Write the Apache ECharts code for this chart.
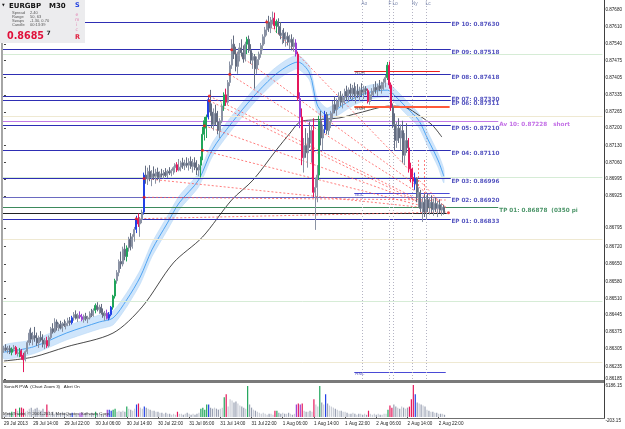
<!DOCTYPE html>
<html><head><meta charset="utf-8">
<script src="https://cdn.jsdelivr.net/npm/echarts@6/dist/echarts.min.js"></script>
<style>html,body{margin:0;padding:0;background:#fff;overflow:hidden}#c{width:625px;height:429px}</style>
</head><body><div id="c"></div>
<script>
// ---- bars: [open, high, low, close], M30 EURGBP from 29 Jul 2013 06:30 ----
const bars = [
[0.86300,0.86318,0.86290,0.86310],[0.86310,0.86325,0.86296,0.86302],[0.86302,0.86318,0.86288,0.86308],[0.86308,0.86320,0.86285,0.86292],
[0.86292,0.86312,0.86280,0.86305],[0.86305,0.86322,0.86295,0.86312],[0.86312,0.86318,0.86282,0.86287],[0.86287,0.86305,0.86275,0.86290],
[0.86285,0.86310,0.86272,0.86298],[0.86298,0.86305,0.86262,0.86275],[0.86280,0.86290,0.86212,0.86262],[0.86262,0.86300,0.86255,0.86295],
[0.86295,0.86340,0.86285,0.86332],[0.86332,0.86385,0.86320,0.86370],[0.86370,0.86392,0.86330,0.86345],[0.86345,0.86375,0.86320,0.86360],
[0.86360,0.86395,0.86335,0.86350],[0.86350,0.86372,0.86318,0.86330],[0.86330,0.86360,0.86310,0.86352],[0.86352,0.86378,0.86335,0.86342],
[0.86342,0.86365,0.86312,0.86325],[0.86325,0.86350,0.86305,0.86340],[0.86340,0.86355,0.86310,0.86318],[0.86318,0.86360,0.86312,0.86352],
[0.86352,0.86395,0.86345,0.86388],[0.86388,0.86410,0.86368,0.86375],[0.86375,0.86430,0.86370,0.86415],[0.86415,0.86425,0.86380,0.86392],
[0.86392,0.86412,0.86378,0.86405],[0.86405,0.86420,0.86385,0.86390],[0.86390,0.86415,0.86375,0.86408],[0.86408,0.86425,0.86395,0.86400],
[0.86400,0.86418,0.86385,0.86410],[0.86410,0.86432,0.86398,0.86420],[0.86420,0.86435,0.86400,0.86412],[0.86412,0.86440,0.86405,0.86432],
[0.86432,0.86455,0.86420,0.86445],[0.86445,0.86462,0.86425,0.86430],[0.86430,0.86450,0.86415,0.86442],[0.86442,0.86458,0.86428,0.86436],
[0.86436,0.86448,0.86418,0.86425],[0.86425,0.86445,0.86412,0.86438],[0.86438,0.86452,0.86420,0.86428],[0.86428,0.86440,0.86410,0.86432],
[0.86432,0.86458,0.86425,0.86450],[0.86450,0.86468,0.86435,0.86442],[0.86442,0.86470,0.86436,0.86462],[0.86462,0.86490,0.86450,0.86482],
[0.86482,0.86495,0.86458,0.86465],[0.86465,0.86485,0.86448,0.86475],[0.86475,0.86488,0.86445,0.86452],[0.86452,0.86470,0.86432,0.86440],
[0.86440,0.86460,0.86420,0.86450],[0.86450,0.86465,0.86425,0.86430],[0.86430,0.86455,0.86422,0.86445],[0.86445,0.86480,0.86438,0.86475],
[0.86475,0.86525,0.86465,0.86520],[0.86520,0.86590,0.86510,0.86582],[0.86582,0.86625,0.86570,0.86615],[0.86615,0.86668,0.86600,0.86660],
[0.86660,0.86700,0.86630,0.86650],[0.86650,0.86720,0.86640,0.86710],[0.86710,0.86735,0.86665,0.86680],[0.86680,0.86725,0.86660,0.86715],
[0.86715,0.86760,0.86700,0.86750],[0.86750,0.86775,0.86705,0.86720],[0.86720,0.86770,0.86712,0.86760],[0.86760,0.86800,0.86740,0.86790],
[0.86790,0.86845,0.86775,0.86832],[0.86832,0.86855,0.86800,0.86812],[0.86812,0.86840,0.86760,0.86830],[0.86830,0.86870,0.86815,0.86860],
[0.86860,0.87020,0.86850,0.87010],[0.87010,0.87048,0.86975,0.86995],[0.86995,0.87040,0.86970,0.87025],[0.87025,0.87050,0.86985,0.87000],
[0.87000,0.87030,0.86965,0.87015],[0.87015,0.87045,0.86990,0.87005],[0.87005,0.87035,0.86975,0.87022],[0.87022,0.87040,0.86990,0.87000],
[0.87000,0.87025,0.86980,0.87015],[0.87015,0.87035,0.87000,0.87010],[0.87010,0.87030,0.86995,0.87020],[0.87020,0.87038,0.87002,0.87008],
[0.87008,0.87032,0.86998,0.87025],[0.87025,0.87042,0.87010,0.87018],[0.87018,0.87035,0.87005,0.87028],[0.87028,0.87045,0.87012,0.87040],
[0.87040,0.87058,0.87020,0.87052],[0.87052,0.87062,0.87022,0.87030],[0.87030,0.87075,0.87025,0.87042],[0.87042,0.87068,0.87025,0.87060],
[0.87060,0.87080,0.87035,0.87048],[0.87048,0.87072,0.87030,0.87058],[0.87058,0.87082,0.87040,0.87050],[0.87050,0.87078,0.87028,0.87065],
[0.87065,0.87085,0.87035,0.87045],[0.87045,0.87075,0.87020,0.87060],[0.87060,0.87082,0.87030,0.87040],[0.87040,0.87070,0.87010,0.87030],
[0.87030,0.87055,0.87005,0.87050],[0.87050,0.87085,0.87000,0.87075],[0.87075,0.87205,0.87070,0.87175],[0.87175,0.87245,0.87150,0.87230],
[0.87200,0.87255,0.87160,0.87245],[0.87245,0.87325,0.87235,0.87315],[0.87315,0.87355,0.87250,0.87265],[0.87265,0.87300,0.87200,0.87215],
[0.87215,0.87280,0.87190,0.87260],[0.87260,0.87295,0.87210,0.87225],[0.87225,0.87270,0.87175,0.87190],[0.87190,0.87240,0.87160,0.87230],
[0.87230,0.87300,0.87220,0.87290],[0.87290,0.87345,0.87270,0.87335],[0.87335,0.87360,0.87290,0.87305],[0.87305,0.87395,0.87295,0.87385],
[0.87385,0.87470,0.87370,0.87455],[0.87455,0.87560,0.87440,0.87540],[0.87540,0.87575,0.87480,0.87500],[0.87500,0.87530,0.87430,0.87450],
[0.87450,0.87510,0.87420,0.87495],[0.87495,0.87545,0.87470,0.87525],[0.87525,0.87560,0.87490,0.87505],[0.87505,0.87535,0.87465,0.87480],
[0.87480,0.87550,0.87470,0.87540],[0.87540,0.87570,0.87500,0.87560],[0.87560,0.87575,0.87505,0.87515],[0.87515,0.87540,0.87460,0.87475],
[0.87475,0.87505,0.87440,0.87490],[0.87490,0.87500,0.87360,0.87440],[0.87440,0.87490,0.87420,0.87478],[0.87478,0.87510,0.87455,0.87500],
[0.87500,0.87545,0.87485,0.87535],[0.87535,0.87580,0.87515,0.87570],[0.87570,0.87610,0.87540,0.87598],[0.87598,0.87640,0.87575,0.87630],
[0.87630,0.87655,0.87590,0.87605],[0.87605,0.87650,0.87585,0.87638],[0.87638,0.87672,0.87620,0.87645],[0.87645,0.87668,0.87600,0.87615],
[0.87615,0.87640,0.87585,0.87632],[0.87632,0.87645,0.87580,0.87612],[0.87612,0.87630,0.87560,0.87575],[0.87575,0.87598,0.87540,0.87585],
[0.87585,0.87605,0.87545,0.87560],[0.87560,0.87590,0.87530,0.87572],[0.87572,0.87588,0.87535,0.87548],[0.87548,0.87578,0.87520,0.87560],
[0.87560,0.87580,0.87515,0.87530],[0.87530,0.87568,0.87510,0.87545],[0.87545,0.87560,0.87490,0.87500],[0.87500,0.87510,0.87310,0.87320],
[0.87320,0.87345,0.87200,0.87245],[0.87245,0.87280,0.87050,0.87080],[0.87080,0.87160,0.87020,0.87130],[0.87130,0.87200,0.87080,0.87100],
[0.87100,0.87180,0.87040,0.87160],[0.87160,0.87225,0.87120,0.87140],[0.87140,0.87210,0.87060,0.87190],[0.87190,0.87240,0.86920,0.86940],
[0.86940,0.87000,0.86788,0.86960],[0.86960,0.87050,0.86900,0.87010],[0.87010,0.87250,0.86990,0.87230],[0.87230,0.87270,0.87130,0.87160],
[0.87160,0.87215,0.87110,0.87195],[0.87195,0.87270,0.87180,0.87255],[0.87255,0.87265,0.87175,0.87190],[0.87190,0.87238,0.87172,0.87225],
[0.87225,0.87270,0.87200,0.87260],[0.87260,0.87310,0.87240,0.87295],[0.87295,0.87330,0.87260,0.87275],[0.87275,0.87320,0.87250,0.87310],
[0.87310,0.87345,0.87285,0.87330],[0.87330,0.87350,0.87290,0.87305],[0.87305,0.87340,0.87280,0.87325],[0.87325,0.87360,0.87300,0.87348],
[0.87348,0.87372,0.87310,0.87330],[0.87330,0.87365,0.87305,0.87355],[0.87355,0.87380,0.87318,0.87340],[0.87340,0.87375,0.87312,0.87362],
[0.87362,0.87385,0.87325,0.87338],[0.87338,0.87370,0.87300,0.87350],[0.87350,0.87378,0.87322,0.87335],[0.87335,0.87368,0.87310,0.87355],
[0.87355,0.87382,0.87330,0.87345],[0.87345,0.87372,0.87318,0.87360],[0.87360,0.87370,0.87335,0.87352],[0.87352,0.87360,0.87300,0.87308],
[0.87308,0.87345,0.87295,0.87335],[0.87335,0.87362,0.87315,0.87350],[0.87350,0.87378,0.87330,0.87365],[0.87365,0.87390,0.87340,0.87355],
[0.87355,0.87380,0.87330,0.87372],[0.87372,0.87395,0.87350,0.87360],[0.87360,0.87388,0.87340,0.87378],[0.87378,0.87400,0.87355,0.87385],
[0.87385,0.87415,0.87365,0.87405],[0.87405,0.87468,0.87395,0.87455],[0.87455,0.87470,0.87360,0.87375],[0.87375,0.87385,0.87270,0.87285],
[0.87285,0.87300,0.87200,0.87215],[0.87215,0.87260,0.87110,0.87150],[0.87150,0.87225,0.87120,0.87200],[0.87200,0.87240,0.87140,0.87160],
[0.87160,0.87215,0.87110,0.87190],[0.87190,0.87230,0.87060,0.87090],[0.87090,0.87180,0.87050,0.87150],[0.87150,0.87220,0.87100,0.87120],
[0.87120,0.87160,0.87020,0.87035],[0.87035,0.87060,0.86980,0.87000],[0.87000,0.87040,0.86960,0.86985],[0.86975,0.87020,0.86950,0.86998],
[0.86998,0.87000,0.86900,0.86920],[0.86920,0.86960,0.86880,0.86940],[0.86940,0.86950,0.86860,0.86875],[0.86875,0.86920,0.86820,0.86900],
[0.86900,0.86935,0.86840,0.86860],[0.86860,0.86925,0.86830,0.86910],[0.86910,0.86935,0.86860,0.86880],[0.86880,0.86920,0.86850,0.86900],
[0.86900,0.86928,0.86855,0.86870],[0.86870,0.86915,0.86845,0.86895],[0.86895,0.86920,0.86860,0.86875],[0.86875,0.86905,0.86840,0.86890],
[0.86890,0.86912,0.86855,0.86868],[0.86868,0.86895,0.86845,0.86880],[0.86880,0.86890,0.86850,0.86857]
];
// ---- SonicR PVA volume per bar ----
const vols = [
560,380,750,760,940,750,1500,1130,1690,1700,1500,940,
1130,1500,1690,1320,1500,1690,1320,1130,1500,
940,2260,1130,
750,940,560,750,560,750,940,750,560,750,560,
750,560,380,560,750,750,560,750,380,560,750,560,
940,560,750,560,380,560,
1320,1320,1130,1320,1500,
940,1130,940,1130,940,1880,1500,1320,1130,1500,
2260,2440,1690,1500,1880,
1690,1500,1320,1130,1130,940,940,750,750,560,750,560,560,380,560,380,
940,
560,560,380,560,750,560,380,560,380,560,750,
1500,1690,1320,2260,2260,
1690,1500,1690,1500,1320,1500,1690,
3570,4140,1880,
3200,3010,2630,2820,2440,2070,1880,
1690,1500,5640,2260,1690,1320,1130,940,
750,560,750,560,380,560,560,380,
1130,1130,
750,560,750,560,560,750,560,380,560,
2260,2440,2260,2440,
1130,940,940,1130,940,
3200,2260,1880,5640,2630,2260,4140,2440,2070,1880,
1690,1500,1320,1130,1130,940,940,
750,560,560,750,560,380,560,560,380,560,380,
1130,
560,380,560,380,560,380,380,560,560,
1320,2070,1690,
2260,1880,1690,1500,1880,1690,1500,1690,
1880,
3200,5830,4140,
2630,2440,2260,2070,1880,
1320,1130,940,940,750,750,560,560,560,380
];
// PVA classes (bar indices)
const greenIdx = [4,8,47,56,57,63,101,102,103,104,113,125,140,162,197];
const redIdx = [6,9,10,22,69,89,114,139,151,153,159,187,198,199,208,209,210];
const blueIdx = [35,54,55,68,72,105,165,211];
const purpleIdx = [39,40,53,150,152];

const tickIdx = [0,15,31,47,63,79,95,111,127,143,159,175,191,207,223];
const tickLabels = ['29 Jul 2013','29 Jul 14:00','29 Jul 22:00','30 Jul 06:00','30 Jul 14:00','30 Jul 22:00','31 Jul 06:00','31 Jul 14:00','31 Jul 22:00','1 Aug 06:00','1 Aug 14:00','1 Aug 22:00','2 Aug 06:00','2 Aug 14:00','2 Aug 22:00'];
const priceTicks = [0.87680,0.87610,0.87540,0.87475,0.87405,0.87335,0.87265,0.87200,0.87130,0.87060,0.86995,0.86925,0.86795,0.86720,0.86650,0.86580,0.86510,0.86445,0.86375,0.86305,0.86235,0.86185];
const volTicks = [6186.15,-203.15];

const epNames = ['EP 10','EP 09','EP 08','EP 07','EP 06','EP 05','EP 04','EP 03','EP 02','EP 01'];
const epPrices = [0.87630,0.87518,0.87418,0.87330,0.87311,0.87210,0.87110,0.86996,0.86920,0.86833];
const epStartIdx = [135,117,116,105.5,105.5,103,102,72,72,68];
const fanEndIdx = [227,227,223.5,218.5,217.5,216,213,227,227,227];
const fanEndPrice = [0.86877,0.86881,0.86885,0.86889,0.86885,0.86893,0.86889,0.86869,0.86909,0.86860];
const avPrice = 0.87228, tpPrice = 0.86878, lastPrice = 0.86857;
const roundLevels = [0.8750,0.8725,0.8700,0.8675,0.8650,0.8625];
const dayNames = ['RDH','RMH','BDL','RML'];
const dayPrices = [0.87431,0.87287,0.86937,0.86212];
const sessNames = ['Ao','F','Lo','Ny','Lc'];
const sessIdx = [184,198,200,210,217];

const bandIdx = [0,15,32,49,56,63,70,76,84,90,100,107,117,128,138,145,151,157,161,166,172,180,188,197,201,207,213,218,223,226];
const bandMid = [0.86293,0.86314,0.86370,0.86415,0.86431,0.86504,0.86597,0.86707,0.86816,0.86897,0.86990,0.87112,0.87221,0.87326,0.87407,0.87448,0.87468,0.87423,0.87294,0.87253,0.87282,0.87322,0.87346,0.87354,0.87330,0.87282,0.87233,0.87152,0.87071,0.87006];
const bandUp = [0.86321,0.86342,0.86398,0.86443,0.86459,0.86532,0.86625,0.86735,0.86844,0.86925,0.87018,0.87140,0.87249,0.87354,0.87435,0.87476,0.87496,0.87451,0.87322,0.87281,0.87310,0.87350,0.87374,0.87382,0.87358,0.87310,0.87261,0.87180,0.87099,0.87034];
const bandLo = [0.86265,0.86286,0.86342,0.86387,0.86403,0.86476,0.86569,0.86679,0.86788,0.86869,0.86962,0.87084,0.87193,0.87298,0.87379,0.87420,0.87440,0.87395,0.87266,0.87225,0.87254,0.87294,0.87318,0.87326,0.87302,0.87254,0.87205,0.87124,0.87043,0.86978];
const blackIdx = [0,15,32,56,71,87,102,117,128,140,147,152,158,172,182,199,207,213,220,225];
const blackVal = [0.86257,0.86273,0.86314,0.86370,0.86476,0.86654,0.86759,0.86909,0.86990,0.87112,0.87180,0.87225,0.87233,0.87241,0.87261,0.87290,0.87282,0.87253,0.87213,0.87164];

// ---- chart ----
const SLOTS = 308;
const PMIN = 0.86180, PMAX = 0.87719;
const cats = Array.from({length: SLOTS}, (_, i) => String(i));
const tickSet = new Set(tickIdx);
const FONT = '"Liberation Sans Narrow","Liberation Sans",Arial,sans-serif';
const COL = {green:'#1fa55a', red:'#e5175b', blue:'#2241e6', purple:'#9b3fd6'};
function cls(i){
  if (greenIdx.includes(i)) return COL.green;
  if (redIdx.includes(i)) return COL.red;
  if (blueIdx.includes(i)) return COL.blue;
  if (purpleIdx.includes(i)) return COL.purple;
  return null;
}
const candleData = bars.map((b, i) => {
  const c = cls(i);
  const it = {value: [b[0], b[3], b[2], b[1]]};
  if (c) it.itemStyle = {color: c, color0: c, borderColor: c, borderColor0: c};
  return it;
});
const volData = vols.map((v, i) => {
  const c = cls(i) || (bars[i][3] >= bars[i][0] ? '#c9cdd6' : '#99a0b2');
  return {value: v, itemStyle: {color: c}};
});
function seg(x1, y1, x2, y2, style){ return [{coord: [x1, y1], lineStyle: style}, {coord: [x2, y2]}]; }

const bgLines = roundLevels.map((p, k) => seg(-0.5, p, SLOTS - 0.5, p, {color: (k % 2 === 0) ? '#d6ecd6' : '#efe9d2', width: 1, type: 'solid'}));
const lvlLines = [];
epPrices.forEach((p, k) => lvlLines.push(seg(-0.5, p, 229.6, p, {color: k === 8 ? '#6a6ac0' : '#2e2eb4', width: 1, type: 'solid'})));
lvlLines.push(seg(-0.5, avPrice, 254, avPrice, {color: '#c27ae6', width: 1, type: 'solid'}));
lvlLines.push(seg(-0.5, tpPrice, 254, tpPrice, {color: '#3d8a5c', width: 1, type: 'solid'}));
lvlLines.push(seg(-0.5, lastPrice, 227.5, lastPrice, {color: '#222222', width: 1, type: 'solid'}));
lvlLines.push(seg(180, dayPrices[0], 224, dayPrices[0], {color: '#ee2020', width: 1, type: 'solid'}));
lvlLines.push(seg(180, dayPrices[1], 229, dayPrices[1], {color: '#ff5a3a', width: 2, type: 'solid'}));
lvlLines.push(seg(180, dayPrices[2], 229, dayPrices[2], {color: '#4a4ad6', width: 1, type: 'solid'}));
lvlLines.push(seg(180, dayPrices[3], 227, dayPrices[3], {color: '#4a4ad6', width: 1, type: 'solid'}));
sessIdx.forEach(x => lvlLines.push(seg(x, PMAX, x, PMIN, {color: '#b4b4c4', width: 1, type: [1, 2]})));
const fanLines = [];
epPrices.forEach((p, k) => fanLines.push(seg(epStartIdx[k], p, fanEndIdx[k], fanEndPrice[k], {color: '#ff5c5c', width: 0.8, type: [2, 2]})));
fanLines.push(seg(213, 0.87071, 213, 0.86877, {color: '#ff5c5c', width: 0.8, type: [2, 2]}));
fanLines.push(seg(216, 0.87071, 216, 0.86877, {color: '#ff5c5c', width: 0.8, type: [2, 2]}));

const dots = epPrices.map((p, k) => [epStartIdx[k], p]).concat([[228.4, lastPrice]]);

const labelItems = [];
epPrices.forEach((p, k) => labelItems.push({value: [229.9, p], label: {formatter: epNames[k] + ': ' + p.toFixed(5), color: '#2a2ab0', fontWeight: 'bold', fontSize: 5.7, fontFamily: '"DejaVu Sans",sans-serif'}}));
labelItems.push({value: [254.5, avPrice], label: {formatter: 'Av 10: ' + avPrice.toFixed(5) + '   short', color: '#b44be0', fontWeight: 'bold', fontSize: 5.7, fontFamily: '"DejaVu Sans",sans-serif'}});
labelItems.push({value: [254.5, tpPrice], label: {formatter: 'TP 01: ' + tpPrice.toFixed(5) + '  (0350 pi', color: '#1f7a43', fontWeight: 'bold', fontSize: 5.7, fontFamily: '"DejaVu Sans",sans-serif'}});
dayNames.forEach((n, k) => labelItems.push({value: [180.5, dayPrices[k]], label: {formatter: n, color: k >= 2 ? '#3a3ab8' : '#333344', fontSize: 4.4, fontFamily: FONT}}));
sessNames.forEach((n, k) => labelItems.push({value: [sessIdx[k] - 0.4, 0.87713], label: {formatter: n, color: '#5a6a9a', fontSize: 4.8, fontFamily: FONT}}));

const chart = echarts.init(document.getElementById('c'), null, {renderer: 'canvas'});
chart.setOption({
  animation: false,
  backgroundColor: '#ffffff',
  grid: [
    {left: 3, right: 21, top: 0, height: 380},
    {left: 3, right: 21, top: 383, height: 35}
  ],
  xAxis: [
    {type: 'category', gridIndex: 0, data: cats, boundaryGap: true, show: false},
    {type: 'value', gridIndex: 0, min: -0.5, max: SLOTS - 0.5, show: false},
    {type: 'category', gridIndex: 1, data: cats, boundaryGap: true,
      axisLine: {show: false},
      axisTick: {show: true, interval: (i) => tickSet.has(i), alignWithLabel: true, length: 2, lineStyle: {color: '#505050'}},
      axisLabel: {interval: (i) => tickSet.has(i), formatter: (v) => tickLabels[tickIdx.indexOf(Number(v))] || '',
        align: 'left', fontSize: 4.6, color: '#202020', fontFamily: FONT, margin: 3}}
  ],
  yAxis: [
    {type: 'value', gridIndex: 0, position: 'right', min: PMIN, max: PMAX, splitLine: {show: false},
      axisLine: {show: false},
      axisTick: {show: true, customValues: priceTicks, length: 2, lineStyle: {color: '#404040'}},
      axisLabel: {customValues: priceTicks, formatter: (v) => v.toFixed(5), fontSize: 4.6, color: '#202020', fontFamily: FONT, margin: 3}},
    {type: 'value', gridIndex: 1, position: 'right', min: -203.15, max: 6186.15, splitLine: {show: false},
      axisLine: {show: false},
      axisTick: {show: false},
      axisLabel: {customValues: volTicks, formatter: (v) => v.toFixed(2), fontSize: 4.6, color: '#202020', fontFamily: FONT, margin: 2, verticalAlign: 'top'}}
  ],
  series: [
    {type: 'line', xAxisIndex: 1, yAxisIndex: 0, data: [[-10, 0.87]], symbol: 'none', lineStyle: {opacity: 0}, silent: true, z: 1,
      markLine: {silent: true, symbol: ['none', 'none'], label: {show: false}, data: bgLines}},
    {type: 'custom', xAxisIndex: 1, yAxisIndex: 0, z: 2, silent: true,
      data: bandIdx.map((x, k) => [x, bandMid[k]]),
      renderItem: (params, api) => {
        if (params.dataIndex !== 0) return null;
        const up = bandIdx.map((x, k) => api.coord([x, bandUp[k]]));
        const lo = bandIdx.map((x, k) => api.coord([x, bandLo[k]])).reverse();
        return {type: 'polygon', shape: {points: up.concat(lo), smooth: 0.2}, style: {fill: '#cfe5fb', stroke: '#bcdaf7', lineWidth: 0.6}};
      }},
    {type: 'line', xAxisIndex: 1, yAxisIndex: 0, z: 3, data: bandIdx.map((x, k) => [x, bandMid[k]]), symbol: 'none', smooth: 0.3,
      lineStyle: {color: '#3f9cf0', width: 0.9}, silent: true},
    {type: 'line', xAxisIndex: 1, yAxisIndex: 0, z: 3, data: blackIdx.map((x, k) => [x, blackVal[k]]), symbol: 'none', smooth: 0.3,
      lineStyle: {color: '#1a1a1a', width: 0.8}, silent: true},
    {type: 'line', xAxisIndex: 1, yAxisIndex: 0, data: [[-10, 0.87]], symbol: 'none', lineStyle: {opacity: 0}, silent: true, z: 4,
      markLine: {silent: true, symbol: ['none', 'none'], label: {show: false}, data: lvlLines}},
    {type: 'candlestick', xAxisIndex: 0, yAxisIndex: 0, z: 5, data: candleData, barWidth: 1.5, silent: true,
      itemStyle: {color: '#c8ccd5', color0: '#8a92a4', borderColor: '#8a92a4', borderColor0: '#636c80', borderWidth: 1},
      markLine: {silent: true, symbol: ['none', 'none'], lineStyle: {opacity: 0},
        label: {show: true, position: 'end', distance: 0, formatter: lastPrice.toFixed(5), backgroundColor: '#000', color: '#fff',
          fontSize: 4.6, fontFamily: FONT, padding: [1, 1.5, 0.5, 1.5]},
        data: [{yAxis: lastPrice}]}},
    {type: 'line', xAxisIndex: 1, yAxisIndex: 0, data: [[-10, 0.87]], symbol: 'none', lineStyle: {opacity: 0}, silent: true, z: 6,
      markLine: {silent: true, symbol: ['none', 'none'], label: {show: false}, data: fanLines}},
    {type: 'scatter', xAxisIndex: 1, yAxisIndex: 0, z: 7, data: dots, symbolSize: 3, itemStyle: {color: '#f01818'}, silent: true},
    {type: 'scatter', xAxisIndex: 1, yAxisIndex: 0, z: 8, data: labelItems, symbolSize: 0, silent: true,
      label: {show: true, position: [0, 0], align: 'left', verticalAlign: 'top'}},
    {type: 'bar', xAxisIndex: 2, yAxisIndex: 1, data: volData, barWidth: 1.2, silent: true}
  ],
  graphic: [
    {type: 'rect', shape: {x: 3, y: 380, width: 601, height: 3}, style: {fill: '#7a7a7a'}, z: 50},
    {type: 'line', shape: {x1: 2, y1: 0, x2: 2, y2: 419}, style: {stroke: '#6a6a6a', lineWidth: 1.2}, z: 50},
    {type: 'line', shape: {x1: 604.5, y1: 0, x2: 604.5, y2: 419}, style: {stroke: '#404040', lineWidth: 1}, z: 50},
    {type: 'line', shape: {x1: 2, y1: 418.5, x2: 605, y2: 418.5}, style: {stroke: '#707070', lineWidth: 1}, z: 50},
    {type: 'text', x: 4, y: 385, style: {text: 'SonicR PVA  (Chart Zoom 3)   Alert On', font: '4.4px ' + FONT, fill: '#202020'}, z: 51},
    {type: 'text', x: 3, y: 412, style: {text: 'MetaTrader, \u00a9 2001-2013, MetaQuotes Software Corp.', font: '4.4px ' + FONT, fill: '#303030'}, z: 51},
    {type: 'rect', shape: {x: 0, y: 0, width: 85, height: 43}, style: {fill: '#ececee'}, z: 100},
    {type: 'text', x: 2, y: 3.5, style: {text: '\u25bc', font: '3.5px "DejaVu Sans"', fill: '#111'}, z: 101},
    {type: 'text', x: 9, y: 3, style: {text: 'EURGBP', font: 'bold 7px "DejaVu Sans"', fill: '#111'}, z: 101},
    {type: 'text', x: 49, y: 3, style: {text: 'M30', font: 'bold 7px "DejaVu Sans"', fill: '#111'}, z: 101},
    {type: 'text', x: 12, y: 11, style: {text: 'Spread', font: '4px ' + FONT, fill: '#555'}, z: 101},
    {type: 'text', x: 30, y: 11, style: {text: '2.40', font: '4px ' + FONT, fill: '#555'}, z: 101},
    {type: 'text', x: 12, y: 15, style: {text: 'Range', font: '4px ' + FONT, fill: '#555'}, z: 101},
    {type: 'text', x: 30, y: 15, style: {text: '50, 63', font: '4px ' + FONT, fill: '#555'}, z: 101},
    {type: 'text', x: 12, y: 19, style: {text: 'Swaps', font: '4px ' + FONT, fill: '#555'}, z: 101},
    {type: 'text', x: 30, y: 19, style: {text: '-1.30, 0.70', font: '4px ' + FONT, fill: '#555'}, z: 101},
    {type: 'text', x: 12, y: 23, style: {text: 'Candle', font: '4px ' + FONT, fill: '#555'}, z: 101},
    {type: 'text', x: 30, y: 23, style: {text: '00:13:39', font: '4px ' + FONT, fill: '#555'}, z: 101},
    {type: 'text', x: 7, y: 31, style: {text: '0.8685', font: 'bold 9.6px "DejaVu Sans"', fill: '#e0103a'}, z: 101},
    {type: 'text', x: 46.5, y: 30.5, style: {text: '7', font: 'bold 6px "DejaVu Sans"', fill: '#222'}, z: 101},
    {type: 'text', x: 75, y: 2.3, style: {text: 'S', font: 'bold 6.5px "DejaVu Sans"', fill: '#2040e0'}, z: 101},
    {type: 'text', x: 75.5, y: 12.5, style: {text: 'e', font: '4.5px "DejaVu Sans"', fill: '#e07fb0'}, z: 101},
    {type: 'text', x: 75, y: 17.3, style: {text: 'm', font: '4.5px "DejaVu Sans"', fill: '#e07fb0'}, z: 101},
    {type: 'text', x: 76, y: 22.5, style: {text: 'i', font: '4.5px "DejaVu Sans"', fill: '#e07fb0'}, z: 101},
    {type: 'text', x: 75.5, y: 27.3, style: {text: 'c', font: '4.5px "DejaVu Sans"', fill: '#e07fb0'}, z: 101},
    {type: 'text', x: 75, y: 34.3, style: {text: 'R', font: 'bold 6.5px "DejaVu Sans"', fill: '#e02040'}, z: 101}
  ]
});
</script>
</body></html>
